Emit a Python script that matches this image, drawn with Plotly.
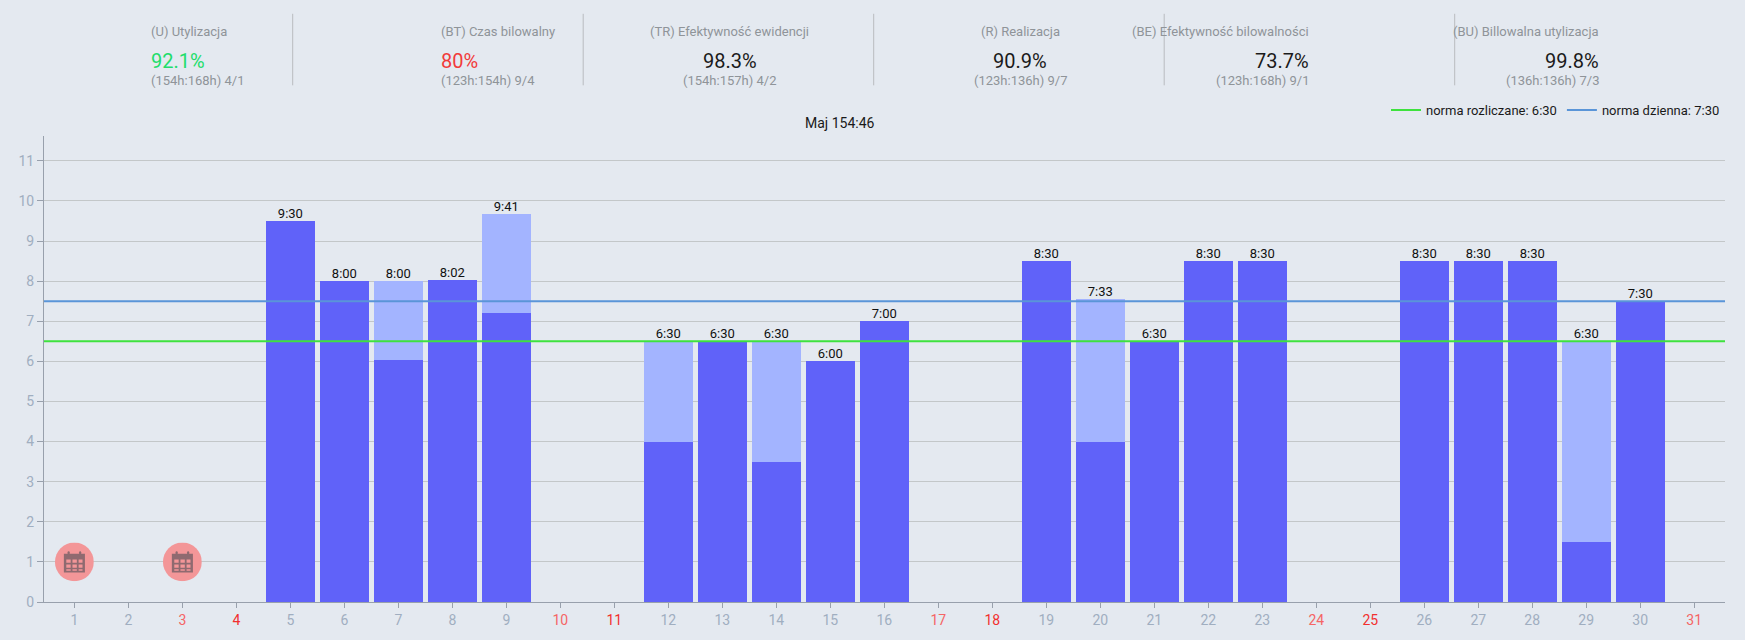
"""
Monthly time report: KPI header and stacked daily hours chart.
"""

import base64

import plotly.graph_objects as go

BG_COLOR = "#e4e9f0"
DARK_BAR = "#6062f9"
LIGHT_BAR = "#a3b4ff"
GRID_COLOR = "#c3c7c9"
AXIS_COLOR = "#98a0ac"
TICK_COLOR = "#a0aec0"
WEEKEND_LIGHT = "#f56565"
WEEKEND_RED = "#f22f2f"

days = list(range(1, 32))
billed = [0, 0, 0, 0, 9.5, 8, 6.03, 8.03, 7.2, 0, 0, 4, 6.5, 3.5, 6, 7, 0, 0, 8.5, 4,
          6.5, 8.5, 8.5, 0, 0, 8.5, 8.5, 8.5, 1.5, 7.5, 0]
unbilled = [0, 0, 0, 0, 0, 0, 1.97, 0, 2.48, 0, 0, 2.5, 0, 3, 0, 0, 0, 0, 0, 3.55,
            0, 0, 0, 0, 0, 0, 0, 0, 5, 0, 0]
bar_labels = ["", "", "", "", "9:30", "8:00", "8:00", "8:02", "9:41", "", "", "6:30", "6:30",
              "6:30", "6:00", "7:00", "", "", "8:30", "7:33", "6:30", "8:30", "8:30", "", "",
              "8:30", "8:30", "8:30", "6:30", "7:30", ""]
light_red_days = [3, 10, 17, 24, 31]
red_days = [4, 11, 18, 25]
leave_days = [1, 3]
leave_level = [1, 1]

kpi_titles = ["(U) Utylizacja", "(BT) Czas bilowalny", "(TR) Efektywność ewidencji",
              "(R) Realizacja", "(BE) Efektywność bilowalności", "(BU) Billowalna utylizacja"]
kpi_values = ["92.1%", "80%", "98.3%", "90.9%", "73.7%", "99.8%"]
kpi_colors = ["#22dd6b", "#f23b3b", "#1a1a1a", "#1a1a1a", "#1a1a1a", "#1a1a1a"]
kpi_details = ["(154h:168h) 4/1", "(123h:154h) 9/4", "(154h:157h) 4/2",
               "(123h:136h) 9/7", "(123h:168h) 9/1", "(136h:136h) 7/3"]

WIDTH, HEIGHT = 1745, 640
ML, MR, MT, MB = 44, 20, 136, 35
ICON_SVG = """<svg xmlns="http://www.w3.org/2000/svg" viewBox="0 0 24 24">
<circle cx="12" cy="12" r="12" fill="#f39698"/>
<g fill="#8f6a70"><path fill-rule="evenodd" d="M5.5 7h13v11.5h-13zM7 10.5v2h2.7v-2zM10.8 10.5v2h2.7v-2zM14.6 10.5v2h2.4v-2zM7 13.6v2h2.7v-2zM10.8 13.6v2h2.7v-2zM14.6 13.6v2h2.4v-2zM7 16.5v1h2.7v-1zM10.8 16.5v1h2.7v-1zM14.6 16.5v1h2.4v-1z"/>
<rect x="7.8" y="5.5" width="1.3" height="3" rx="0.6"/><rect x="14.9" y="5.5" width="1.3" height="3" rx="0.6"/></g></svg>"""
ICON_URI = "data:image/svg+xml;base64," + base64.b64encode(ICON_SVG.encode()).decode()


def paper_x(px):
    return (px - ML) / (WIDTH - ML - MR)


def paper_y(py):
    return (HEIGHT - MB - py) / (HEIGHT - MT - MB)


def day_tick(day):
    if day in red_days:
        return f'<span style="color:{WEEKEND_RED}">{day}</span>'
    if day in light_red_days:
        return f'<span style="color:{WEEKEND_LIGHT}">{day}</span>'
    return str(day)


fig = go.Figure()
fig.add_trace(go.Bar(x=days, y=billed, marker_color=DARK_BAR, marker_line_width=0,
                     showlegend=False, hoverinfo="skip"))
fig.add_trace(go.Bar(x=days, y=unbilled, marker_color=LIGHT_BAR, marker_line_width=0,
                     showlegend=False, hoverinfo="skip"))
totals = [b + u for b, u in zip(billed, unbilled)]
fig.add_trace(go.Scatter(x=days, y=totals, mode="text", text=bar_labels,
                         textposition="top center",
                         textfont=dict(family="Roboto", size=13, color="#111111"),
                         showlegend=False, hoverinfo="skip"))

fig.add_hline(y=7.5, line=dict(color="#5a95d8", width=2), name="norma dzienna: 7:30", showlegend=True)
fig.add_hline(y=6.5, line=dict(color="#3ee23e", width=2), name="norma rozliczane: 6:30", showlegend=True)

for d, lvl in zip(leave_days, leave_level):
    fig.add_layout_image(dict(source=ICON_URI, xref="x", yref="y", x=d, y=lvl,
                              sizex=0.72, sizey=0.97, xanchor="center", yanchor="middle",
                              sizing="contain", layer="above"))

# KPI header
DIVIDERS = [292.7, 583.2, 873.7, 1164.2, 1454.7]
for px in DIVIDERS:
    fig.add_shape(type="line", xref="paper", yref="paper", x0=paper_x(px), x1=paper_x(px),
                  y0=paper_y(13), y1=paper_y(85), line=dict(color="#b9bcbf", width=1))
for i in range(6):
    cx = paper_x(148.5 + 290.5 * i)
    fig.add_annotation(text=kpi_titles[i], xref="paper", yref="paper", x=cx, y=paper_y(21),
                       showarrow=False, font=dict(family="Roboto", size=13, color="#8f9499"))
    fig.add_annotation(text=kpi_values[i], xref="paper", yref="paper", x=cx, y=paper_y(46),
                       showarrow=False, font=dict(family="Roboto", size=20, color=kpi_colors[i]))
    fig.add_annotation(text=kpi_details[i], xref="paper", yref="paper", x=cx, y=paper_y(71),
                       showarrow=False, font=dict(family="Roboto", size=13, color="#8f9499"))
fig.add_annotation(text="Maj 154:46", xref="paper", yref="paper", x=paper_x(840), y=paper_y(113),
                   showarrow=False, font=dict(family="Roboto", size=14, color="#1a1a1a"))

fig.update_layout(
    barmode="stack",
    bargap=0.09,
    width=WIDTH,
    height=HEIGHT,
    margin=dict(l=ML, r=MR, t=MT, b=MB, pad=0),
    paper_bgcolor=BG_COLOR,
    plot_bgcolor=BG_COLOR,
    font=dict(family="Roboto", size=14, color=TICK_COLOR),
    legend=dict(orientation="h", xanchor="right", yanchor="middle", x=1, y=paper_y(110),
                font=dict(family="Roboto", size=13, color="#1a1a1a"), bgcolor="rgba(0,0,0,0)"),
)
fig.update_xaxes(range=[0.437, 31.57], tickmode="array", tickvals=days,
                 ticktext=[day_tick(d) for d in days], showgrid=False, zeroline=False,
                 showline=True, linecolor=AXIS_COLOR, ticks="outside", ticklen=5,
                 tickcolor=AXIS_COLOR, tickfont=dict(family="Roboto", size=14, color=TICK_COLOR))
fig.update_yaxes(range=[0, 11.62], tickmode="linear", tick0=0, dtick=1, showgrid=True,
                 gridcolor=GRID_COLOR, gridwidth=1, zeroline=False, showline=True,
                 linecolor=AXIS_COLOR, ticks="outside", ticklen=6, tickcolor=AXIS_COLOR,
                 tickfont=dict(family="Roboto", size=14, color=TICK_COLOR))

fig.write_html("out.html", config={"displayModeBar": False},
               post_script="document.body.style.margin='0';")
